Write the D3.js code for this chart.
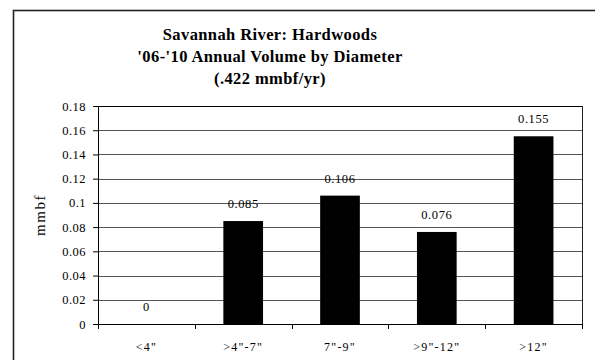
<!DOCTYPE html>
<html>
<head>
<meta charset="utf-8">
<script src="https://cdn.jsdelivr.net/npm/d3@7"></script>
<style>
  body { margin: 0; background: #fff; }
  svg text { font-family: "Liberation Serif", "Times New Roman", serif; }
</style>
</head>
<body>
<div id="chart"></div>
<script>
// chart data
const categories = ['<4"', '>4"-7"', '7"-9"', '>9"-12"', '>12"']
const volumes = [0, 0.085, 0.106, 0.076, 0.155]
const yTicks = [0, 0.02, 0.04, 0.06, 0.08, 0.1, 0.12, 0.14, 0.16, 0.18]
const titleLines = ["Savannah River: Hardwoods", "'06-'10 Annual Volume by Diameter", "(.422 mmbf/yr)"]

const W = 595, H = 360
const plot = {left: 98, right: 582, top: 106, bottom: 324}

const svg = d3.select("#chart")
  .append("svg")
    .attr("width", W)
    .attr("height", H)
    .attr("font-family", "Liberation Serif")

// outer frame
svg.append("rect")
  .attr("x", 13.5).attr("y", 10.5)
  .attr("width", 600).attr("height", 400)
  .attr("fill", "white")
  .attr("stroke", "#222").attr("stroke-width", 1.6)

// title
svg.append("g").selectAll("text")
  .data(titleLines)
  .enter()
  .append("text")
    .attr("x", 270)
    .attr("y", (d, i) => 40 + i * 22)
    .attr("text-anchor", "middle")
    .style("font-weight", "bold")
    .style("font-size", "16.5px")
    .style("letter-spacing", "0.4px")
    .text(d => d)

const x = d3.scaleBand()
  .domain(categories)
  .range([plot.left, plot.right])
  .paddingInner(0.59)
  .paddingOuter(0.295)

const y = d3.scaleLinear()
  .domain([0, 0.18])
  .range([plot.bottom, plot.top])

// gridlines
svg.append("g").selectAll("line")
  .data(yTicks.slice(1))
  .enter()
  .append("line")
    .attr("x1", plot.left).attr("x2", plot.right)
    .attr("y1", d => Math.round(y(d)) + 0.5)
    .attr("y2", d => Math.round(y(d)) + 0.5)
    .attr("stroke", d => d === 0.18 ? "#000" : "#555")
    .attr("stroke-width", 1)

// plot border right side
svg.append("line")
  .attr("x1", plot.right + 0.5).attr("x2", plot.right + 0.5)
  .attr("y1", plot.top).attr("y2", plot.bottom)
  .attr("stroke", "#222")

// bars
svg.append("g").selectAll("rect")
  .data(volumes)
  .enter()
  .append("rect")
    .attr("x", (d, i) => x(categories[i]))
    .attr("y", d => y(d))
    .attr("width", x.bandwidth())
    .attr("height", d => plot.bottom - y(d))
    .attr("fill", "#000")

// value labels
svg.append("g").selectAll("text")
  .data(volumes)
  .enter()
  .append("text")
    .attr("x", (d, i) => x(categories[i]) + x.bandwidth() / 2)
    .attr("y", d => y(d) - 13)
    .attr("text-anchor", "middle")
    .style("font-size", "12.5px")
    .style("letter-spacing", "0.6px")
    .text(d => d)

// y axis
const yAxis = svg.append("g")
  .attr("transform", `translate(${plot.left},0)`)
  .call(d3.axisLeft(y).tickValues(yTicks).tickSize(5).tickPadding(7)
    .tickFormat(d => d3.format("")(+d.toFixed(2))))
yAxis.attr("font-family", null).attr("font-size", null)
yAxis.select(".domain").attr("d", `M0.5,${plot.top}V${plot.bottom}`).attr("stroke", "#000")
yAxis.selectAll("text")
  .style("font-size", "12.5px")
  .style("letter-spacing", "0.5px")
  .attr("fill", "#000")

// x axis with ticks at category boundaries
const xAxisG = svg.append("g")
  .attr("transform", `translate(0,${plot.bottom})`)
xAxisG.append("line")
  .attr("x1", plot.left).attr("x2", plot.right + 1)
  .attr("y1", 0.5).attr("y2", 0.5)
  .attr("stroke", "#000")
const step = (plot.right - plot.left) / categories.length
xAxisG.selectAll(".tick")
  .data(d3.range(categories.length + 1))
  .enter()
  .append("line")
    .attr("x1", i => Math.round(plot.left + i * step) + 0.5)
    .attr("x2", i => Math.round(plot.left + i * step) + 0.5)
    .attr("y1", 0).attr("y2", 5)
    .attr("stroke", "#000")
xAxisG.selectAll("text")
  .data(categories)
  .enter()
  .append("text")
    .attr("x", d => x(d) + x.bandwidth() / 2)
    .attr("y", 27)
    .attr("text-anchor", "middle")
    .style("font-size", "12px")
    .style("letter-spacing", "1.2px")
    .text(d => d)

// y axis label
svg.append("text")
  .attr("transform", `translate(45,${(plot.top + plot.bottom) / 2}) rotate(-90)`)
  .attr("text-anchor", "middle")
  .style("font-size", "15px")
  .style("letter-spacing", "1.5px")
  .text("mmbf")
</script>
</body>
</html>
